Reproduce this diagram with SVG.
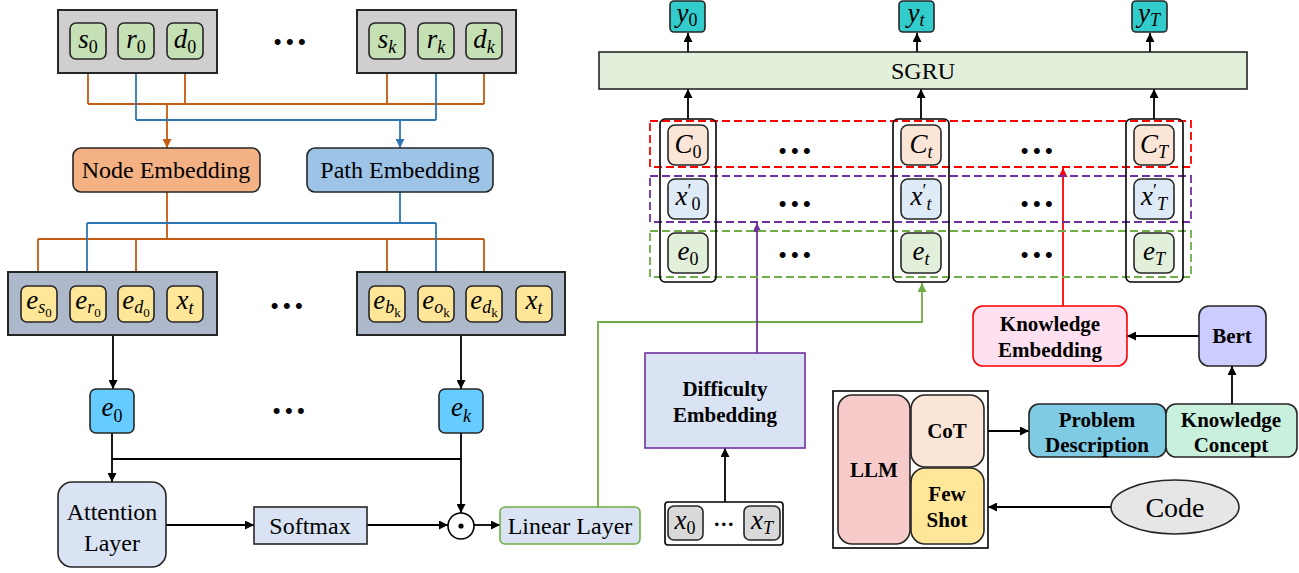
<svg xmlns="http://www.w3.org/2000/svg" width="1299" height="573" viewBox="0 0 1299 573">
<defs>
<style>
.t{font-size:24px;fill:#000;text-anchor:middle}
.b{font-size:21px;font-weight:bold;fill:#000;text-anchor:middle}
.m{font-size:27px;font-style:italic;fill:#000;text-anchor:middle}
.m .s{font-size:18px}
.m .n{font-style:normal}
.m .ss{font-size:13px;font-style:normal}
.m .p{font-size:18px;font-style:normal}
.dots{font-size:22px;letter-spacing:4.5px;fill:#000;text-anchor:middle}
.box{stroke:#262626;stroke-width:1.6}
.gray{fill:#d0cece;stroke:#262626;stroke-width:2}
.slate{fill:#adb9ca;stroke:#262626;stroke-width:2}
.grn{fill:#c5e0b4}
.yel{fill:#ffe699}
.lb{fill:#dae3f3}
.ln{fill:none;stroke-width:1.8}
.or{stroke:#c55a11}
.bl{stroke:#2e75b6}
.bk{stroke:#000}
.gr{stroke:#70ad47}
.pu{stroke:#7030a0}
.rd{stroke:#ff0000}
.dash{fill:none;stroke-width:1.8;stroke-dasharray:8 4}
</style>
<marker id="aOr" viewBox="0 0 10 10" refX="10" refY="5" markerUnits="userSpaceOnUse" markerWidth="9" markerHeight="9" orient="auto"><path d="M0,0L10,5L0,10z" fill="#c55a11"/></marker>
<marker id="aBl" viewBox="0 0 10 10" refX="10" refY="5" markerUnits="userSpaceOnUse" markerWidth="9" markerHeight="9" orient="auto"><path d="M0,0L10,5L0,10z" fill="#2e75b6"/></marker>
<marker id="aBk" viewBox="0 0 10 10" refX="10" refY="5" markerUnits="userSpaceOnUse" markerWidth="9" markerHeight="9" orient="auto"><path d="M0,0L10,5L0,10z" fill="#000"/></marker>
<marker id="aGr" viewBox="0 0 10 10" refX="10" refY="5" markerUnits="userSpaceOnUse" markerWidth="9" markerHeight="9" orient="auto"><path d="M0,0L10,5L0,10z" fill="#70ad47"/></marker>
<marker id="aPu" viewBox="0 0 10 10" refX="10" refY="5" markerUnits="userSpaceOnUse" markerWidth="9" markerHeight="9" orient="auto"><path d="M0,0L10,5L0,10z" fill="#7030a0"/></marker>
<marker id="aRd" viewBox="0 0 10 10" refX="10" refY="5" markerUnits="userSpaceOnUse" markerWidth="9" markerHeight="9" orient="auto"><path d="M0,0L10,5L0,10z" fill="#ff0000"/></marker>
</defs>
<rect width="1299" height="573" fill="#fff"/>

<!-- connectors -->
<g id="connectors">
  <path class="ln or" d="M88,59V104M185,59V104M387,59V104M484,59V104M88,104H484"/>
  <path class="ln or" d="M167,104V148" marker-end="url(#aOr)"/>
  <path class="ln bl" d="M136,59V120M436,59V120M136,120H436"/>
  <path class="ln bl" d="M400,120V148" marker-end="url(#aBl)"/>
  <path class="ln or" d="M167,192V239M38,239H484"/>
  <path class="ln or" d="M38,239V286" marker-end="url(#aOr)"/>
  <path class="ln or" d="M136,239V286" marker-end="url(#aOr)"/>
  <path class="ln or" d="M387,239V286" marker-end="url(#aOr)"/>
  <path class="ln or" d="M484,239V286" marker-end="url(#aOr)"/>
  <path class="ln bl" d="M400,192V223M87,223H436"/>
  <path class="ln bl" d="M87,223V286" marker-end="url(#aBl)"/>
  <path class="ln bl" d="M436,223V286" marker-end="url(#aBl)"/>
  <path class="ln bk" d="M113,335V389" marker-end="url(#aBk)"/>
  <path class="ln bk" d="M461,335V389" marker-end="url(#aBk)"/>
  <path class="ln bk" d="M112,433V482" marker-end="url(#aBk)"/>
  <path class="ln bk" d="M112,459H461"/>
  <path class="ln bk" d="M461,433V513" marker-end="url(#aBk)"/>
  <path class="ln bk" d="M166,525H254" marker-end="url(#aBk)"/>
  <path class="ln bk" d="M367,525H448" marker-end="url(#aBk)"/>
  <path class="ln bk" d="M474,525H500" marker-end="url(#aBk)"/>
  <path class="ln gr" d="M598,507V322H922V283" marker-end="url(#aGr)"/>
  <path class="ln bk" d="M688,52V33" marker-end="url(#aBk)"/>
  <path class="ln bk" d="M917,52V33" marker-end="url(#aBk)"/>
  <path class="ln bk" d="M1150,52V33" marker-end="url(#aBk)"/>
  <path class="ln bk" d="M688,119V89" marker-end="url(#aBk)"/>
  <path class="ln bk" d="M921,119V89" marker-end="url(#aBk)"/>
  <path class="ln bk" d="M1154,119V89" marker-end="url(#aBk)"/>
  <path class="ln pu" d="M757,353V223" marker-end="url(#aPu)"/>
  <path class="ln rd" d="M1063,306V168" marker-end="url(#aRd)"/>
  <path class="ln bk" d="M725,502V448" marker-end="url(#aBk)"/>
  <path class="ln bk" d="M1199,336H1127" marker-end="url(#aBk)"/>
  <path class="ln bk" d="M988,431H1029" marker-end="url(#aBk)"/>
  <path class="ln bk" d="M1232,404V366" marker-end="url(#aBk)"/>
  <path class="ln bk" d="M1111,507H988" marker-end="url(#aBk)"/>
</g>

<!-- top input groups -->
<g id="input0">
  <rect class="gray" x="58" y="10" width="159" height="63"/>
  <rect class="grn box" x="70" y="23" width="36" height="36" rx="6"/>
  <rect class="grn box" x="118" y="23" width="36" height="36" rx="6"/>
  <rect class="grn box" x="167" y="23" width="36" height="36" rx="6"/>
  <text class="m" font-family="Liberation Serif" x="88" y="48">s<tspan class="s n" dy="5">0</tspan></text>
  <text class="m" font-family="Liberation Serif" x="136" y="48">r<tspan class="s n" dy="5">0</tspan></text>
  <text class="m" font-family="Liberation Serif" x="185" y="48">d<tspan class="s n" dy="5">0</tspan></text>
</g>
<g id="inputk">
  <rect class="gray" x="357" y="10" width="159" height="63"/>
  <rect class="grn box" x="369" y="23" width="36" height="36" rx="6"/>
  <rect class="grn box" x="418" y="23" width="36" height="36" rx="6"/>
  <rect class="grn box" x="466" y="23" width="36" height="36" rx="6"/>
  <text class="m" font-family="Liberation Serif" x="387" y="48">s<tspan class="s" dy="5">k</tspan></text>
  <text class="m" font-family="Liberation Serif" x="436" y="48">r<tspan class="s" dy="5">k</tspan></text>
  <text class="m" font-family="Liberation Serif" x="484" y="48">d<tspan class="s" dy="5">k</tspan></text>
</g>
<text class="dots" font-family="Liberation Sans" x="292" y="49">•••</text>

<g id="node-embedding">
  <rect class="box" x="73" y="148" width="187" height="44" rx="8" fill="#f4b183"/>
  <text class="t" font-family="Liberation Serif" x="166" y="178">Node Embedding</text>
</g>
<g id="path-embedding">
  <rect class="box" x="307" y="148" width="186" height="44" rx="8" fill="#9dc3e6"/>
  <text class="t" font-family="Liberation Serif" x="400" y="178">Path Embedding</text>
</g>

<g id="emb0">
  <rect class="slate" x="8" y="272" width="209" height="63"/>
  <rect class="yel box" x="21" y="286" width="36" height="36" rx="6"/>
  <rect class="yel box" x="70" y="286" width="36" height="36" rx="6"/>
  <rect class="yel box" x="118" y="286" width="36" height="36" rx="6"/>
  <rect class="yel box" x="167" y="286" width="36" height="36" rx="6"/>
  <text class="m" font-family="Liberation Serif" x="39" y="309">e<tspan class="s" dy="4">s</tspan><tspan class="ss" dy="4">0</tspan></text>
  <text class="m" font-family="Liberation Serif" x="88" y="309">e<tspan class="s" dy="4">r</tspan><tspan class="ss" dy="4">0</tspan></text>
  <text class="m" font-family="Liberation Serif" x="136" y="309">e<tspan class="s" dy="4">d</tspan><tspan class="ss" dy="4">0</tspan></text>
  <text class="m" font-family="Liberation Serif" x="185" y="309">x<tspan class="s" dy="5">t</tspan></text>
</g>
<g id="embk">
  <rect class="slate" x="357" y="272" width="208" height="63"/>
  <rect class="yel box" x="369" y="286" width="36" height="36" rx="6"/>
  <rect class="yel box" x="418" y="286" width="36" height="36" rx="6"/>
  <rect class="yel box" x="466" y="286" width="36" height="36" rx="6"/>
  <rect class="yel box" x="516" y="286" width="36" height="36" rx="6"/>
  <text class="m" font-family="Liberation Serif" x="387" y="309">e<tspan class="s" dy="4">b</tspan><tspan class="ss" dy="4" font-style="italic">k</tspan></text>
  <text class="m" font-family="Liberation Serif" x="436" y="309">e<tspan class="s" dy="4">o</tspan><tspan class="ss" dy="4" font-style="italic">k</tspan></text>
  <text class="m" font-family="Liberation Serif" x="484" y="309">e<tspan class="s" dy="4">d</tspan><tspan class="ss" dy="4" font-style="italic">k</tspan></text>
  <text class="m" font-family="Liberation Serif" x="534" y="309">x<tspan class="s" dy="5">t</tspan></text>
</g>
<text class="dots" font-family="Liberation Sans" x="289" y="313">•••</text>

<g id="e0">
  <rect class="box" x="90" y="389" width="44" height="44" rx="6" fill="#66ccff"/>
  <text class="m" font-family="Liberation Serif" x="112" y="416">e<tspan class="s n" dy="6">0</tspan></text>
</g>
<g id="ek">
  <rect class="box" x="439" y="389" width="44" height="44" rx="6" fill="#66ccff"/>
  <text class="m" font-family="Liberation Serif" x="461" y="416">e<tspan class="s" dy="6">k</tspan></text>
</g>
<text class="dots" font-family="Liberation Sans" x="291" y="418">•••</text>

<g id="attention">
  <rect class="box lb" x="58" y="482" width="108" height="85" rx="14"/>
  <text class="t" font-family="Liberation Serif" x="112" y="520">Attention</text>
  <text class="t" font-family="Liberation Serif" x="112" y="551">Layer</text>
</g>
<g id="softmax">
  <rect class="box lb" x="254" y="507" width="113" height="37"/>
  <text class="t" font-family="Liberation Serif" x="310" y="534">Softmax</text>
</g>
<g id="product">
  <circle cx="461" cy="526" r="13" fill="#fff" stroke="#000" stroke-width="1.6"/>
  <circle cx="461" cy="526" r="2.6" fill="#000"/>
</g>
<g id="linear">
  <rect class="lb" x="500" y="507" width="140" height="37" rx="5" stroke="#70ad47" stroke-width="1.6"/>
  <text class="t" font-family="Liberation Serif" x="570" y="534">Linear Layer</text>
</g>

<!-- right part -->
<g id="y0">
  <rect class="box" x="670" y="1" width="35" height="31" rx="4" fill="#33cccc"/>
  <text class="m" font-family="Liberation Serif" x="687" y="22">y<tspan class="s n" dy="4">0</tspan></text>
</g>
<g id="yt">
  <rect class="box" x="899" y="1" width="35" height="31" rx="4" fill="#33cccc"/>
  <text class="m" font-family="Liberation Serif" x="916" y="22">y<tspan class="s" dy="4">t</tspan></text>
</g>
<g id="yT">
  <rect class="box" x="1132" y="1" width="35" height="31" rx="4" fill="#33cccc"/>
  <text class="m" font-family="Liberation Serif" x="1149" y="22">y<tspan class="s" dy="4">T</tspan></text>
</g>
<g id="sgru">
  <rect class="box" x="599" y="52" width="648" height="37" fill="#e2efda"/>
  <text class="t" font-family="Liberation Serif" x="923" y="79">SGRU</text>
</g>

<rect class="dash rd" x="650" y="121" width="541" height="46"/>
<rect class="dash pu" x="650" y="176" width="541" height="46"/>
<rect class="dash gr" x="650" y="231" width="541" height="46"/>

<g id="col0">
  <rect x="660" y="119" width="56" height="163" rx="5" fill="none" stroke="#000" stroke-width="1.6"/>
  <rect class="box" x="668" y="125" width="40" height="40" rx="7" fill="#fbe5d6"/>
  <rect class="box" x="668" y="179" width="40" height="40" rx="7" fill="#deebf7"/>
  <rect class="box" x="668" y="233" width="40" height="40" rx="7" fill="#e2efda"/>
  <text class="m" font-family="Liberation Serif" x="688" y="153">C<tspan class="s n" dy="5">0</tspan></text>
  <text class="m" font-family="Liberation Serif" x="688" y="205">x<tspan class="p" dy="-8">′</tspan><tspan class="s n" dy="13">0</tspan></text>
  <text class="m" font-family="Liberation Serif" x="688" y="260">e<tspan class="s n" dy="5">0</tspan></text>
</g>
<g id="colt">
  <rect x="893" y="119" width="56" height="163" rx="5" fill="none" stroke="#000" stroke-width="1.6"/>
  <rect class="box" x="901" y="125" width="40" height="40" rx="7" fill="#fbe5d6"/>
  <rect class="box" x="901" y="179" width="40" height="40" rx="7" fill="#deebf7"/>
  <rect class="box" x="901" y="233" width="40" height="40" rx="7" fill="#e2efda"/>
  <text class="m" font-family="Liberation Serif" x="921" y="153">C<tspan class="s" dy="5">t</tspan></text>
  <text class="m" font-family="Liberation Serif" x="921" y="205">x<tspan class="p" dy="-8">′</tspan><tspan class="s" dy="13">t</tspan></text>
  <text class="m" font-family="Liberation Serif" x="921" y="260">e<tspan class="s" dy="5">t</tspan></text>
</g>
<g id="colT">
  <rect x="1126" y="119" width="57" height="163" rx="5" fill="none" stroke="#000" stroke-width="1.6"/>
  <rect class="box" x="1134" y="125" width="40" height="40" rx="7" fill="#fbe5d6"/>
  <rect class="box" x="1134" y="179" width="40" height="40" rx="7" fill="#deebf7"/>
  <rect class="box" x="1134" y="233" width="40" height="40" rx="7" fill="#e2efda"/>
  <text class="m" font-family="Liberation Serif" x="1154" y="153">C<tspan class="s" dy="5">T</tspan></text>
  <text class="m" font-family="Liberation Serif" x="1154" y="205">x<tspan class="p" dy="-8">′</tspan><tspan class="s" dy="13">T</tspan></text>
  <text class="m" font-family="Liberation Serif" x="1154" y="260">e<tspan class="s" dy="5">T</tspan></text>
</g>
<text class="dots" font-family="Liberation Sans" x="797" y="158">•••</text>
<text class="dots" font-family="Liberation Sans" x="797" y="211">•••</text>
<text class="dots" font-family="Liberation Sans" x="797" y="262">•••</text>
<text class="dots" font-family="Liberation Sans" x="1039" y="158">•••</text>
<text class="dots" font-family="Liberation Sans" x="1039" y="211">•••</text>
<text class="dots" font-family="Liberation Sans" x="1039" y="262">•••</text>

<g id="difficulty">
  <rect x="645" y="353" width="160" height="95" fill="#dae3f3" stroke="#7030a0" stroke-width="1.6"/>
  <text class="b" font-family="Liberation Serif" x="725" y="396">Difficulty</text>
  <text class="b" font-family="Liberation Serif" x="725" y="422">Embedding</text>
</g>
<g id="x-seq">
  <rect x="665" y="502" width="118" height="43" rx="3" fill="#fff" stroke="#000" stroke-width="1.6"/>
  <rect class="box" x="668" y="506" width="35" height="34" rx="6" fill="#d9d9d9"/>
  <rect class="box" x="744" y="506" width="36" height="34" rx="6" fill="#d9d9d9"/>
  <text class="m" font-family="Liberation Serif" x="685" y="529">x<tspan class="s n" dy="5">0</tspan></text>
  <text class="m" font-family="Liberation Serif" x="762" y="529">x<tspan class="s" dy="5">T</tspan></text>
  <text class="dots" font-family="Liberation Sans" x="725" y="529" style="font-size:13px;letter-spacing:2.5px">•••</text>
</g>

<g id="knowledge-embedding">
  <rect x="973" y="306" width="154" height="60" rx="10" fill="#ffe0f0" stroke="#ff0000" stroke-width="1.6"/>
  <text class="b" font-family="Liberation Serif" x="1050" y="331">Knowledge</text>
  <text class="b" font-family="Liberation Serif" x="1050" y="357">Embedding</text>
</g>
<g id="bert">
  <rect class="box" x="1199" y="306" width="67" height="60" rx="10" fill="#ccccff"/>
  <text class="b" font-family="Liberation Serif" x="1232" y="343">Bert</text>
</g>
<g id="llm">
  <rect x="833" y="391" width="155" height="157" fill="#fff" stroke="#000" stroke-width="1.6"/>
  <rect class="box" x="838" y="395" width="72" height="149" rx="14" fill="#f8cbcb"/>
  <text class="b" font-family="Liberation Serif" x="874" y="477">LLM</text>
</g>
<g id="cot">
  <rect class="box" x="911" y="395" width="73" height="72" rx="14" fill="#fbe5d6"/>
  <text class="b" font-family="Liberation Serif" x="947" y="438">CoT</text>
</g>
<g id="fewshot">
  <rect class="box" x="911" y="468" width="73" height="76" rx="14" fill="#ffe699"/>
  <text class="b" font-family="Liberation Serif" x="947" y="501">Few</text>
  <text class="b" font-family="Liberation Serif" x="947" y="527">Shot</text>
</g>
<g id="problem">
  <rect class="box" x="1029" y="404" width="137" height="53" rx="10" fill="#7fcbe3"/>
  <text class="b" font-family="Liberation Serif" x="1097" y="427">Problem</text>
  <text class="b" font-family="Liberation Serif" x="1097" y="452">Description</text>
</g>
<g id="concept">
  <rect class="box" x="1166" y="404" width="131" height="53" rx="10" fill="#c9f0dd"/>
  <text class="b" font-family="Liberation Serif" x="1231" y="427">Knowledge</text>
  <text class="b" font-family="Liberation Serif" x="1231" y="452">Concept</text>
</g>
<g id="code">
  <ellipse cx="1175" cy="507" rx="64" ry="27" fill="#e7e6e6" stroke="#262626" stroke-width="1.6"/>
  <text class="t" font-family="Liberation Serif" x="1175" y="517" style="font-size:28px">Code</text>
</g>
</svg>
